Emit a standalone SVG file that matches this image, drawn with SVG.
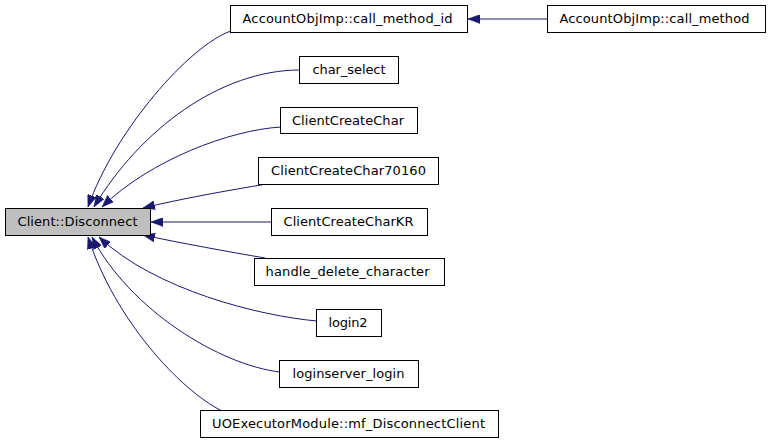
<svg xmlns="http://www.w3.org/2000/svg" width="771" height="443" viewBox="0 0 771 443">
<style>
.box{fill:#ffffff;stroke:#000000;stroke-width:1}
.cur{fill:#bfbfbf;stroke:#000000;stroke-width:1}
.lbl{font-family:"DejaVu Sans","Liberation Sans",sans-serif;font-size:13px;fill:#000000;text-anchor:middle}
.edge{fill:none;stroke:#191970;stroke-width:1;marker-end:url(#arr)}
</style>
<defs>
<marker id="arr" viewBox="0 0 12 9" refX="12" refY="4.5" markerWidth="12" markerHeight="9" markerUnits="userSpaceOnUse" orient="auto">
<path d="M0,0 L12,4.5 L0,9 z" fill="#191970" stroke="#191970" stroke-width="0.5"/>
</marker>
</defs>
<rect width="771" height="443" fill="#ffffff"/>
<g id="edges">
<path class="edge" d="M548,19 L468,19"/>
<path class="edge" d="M231,31 C190,45 115,130 88,207"/>
<path class="edge" d="M300,70 C220,70 140,130 94,207"/>
<path class="edge" d="M281,127 C230,130 150,160 102,207"/>
<path class="edge" d="M267,184 C230,190 180,199 143,208"/>
<path class="edge" d="M271,222 L151,222"/>
<path class="edge" d="M265,258 C230,252 180,243 143,235"/>
<path class="edge" d="M317,321 C260,316 155,290 99,237"/>
<path class="edge" d="M280,372 C220,365 130,310 92,237"/>
<path class="edge" d="M222,411 C180,390 115,320 88,237"/>
</g>
<g id="node_disconnect">
<rect class="cur" x="5.5" y="208.5" width="145" height="27"/>
<text class="lbl" x="77.5" y="225.5" textLength="120" lengthAdjust="spacing">Client::Disconnect</text>
</g>
<g id="node_call_method_id">
<rect class="box" x="230.5" y="5.5" width="237" height="27"/>
<text class="lbl" x="347.5" y="23" textLength="210" lengthAdjust="spacing">AccountObjImp::call_method_id</text>
</g>
<g id="node_call_method">
<rect class="box" x="547.5" y="5.5" width="218" height="27"/>
<text class="lbl" x="654.5" y="23" textLength="190" lengthAdjust="spacing">AccountObjImp::call_method</text>
</g>
<g id="node_char_select">
<rect class="box" x="299.5" y="56.5" width="99" height="27"/>
<text class="lbl" x="349" y="73.5" textLength="73" lengthAdjust="spacing">char_select</text>
</g>
<g id="node_clientcreatechar">
<rect class="box" x="280.5" y="107.5" width="137" height="26"/>
<text class="lbl" x="348" y="124.5" textLength="112" lengthAdjust="spacing">ClientCreateChar</text>
</g>
<g id="node_clientcreatechar70160">
<rect class="box" x="258.5" y="157.5" width="180" height="27"/>
<text class="lbl" x="348.5" y="175" textLength="155" lengthAdjust="spacing">ClientCreateChar70160</text>
</g>
<g id="node_clientcreatecharkr">
<rect class="box" x="271.5" y="208.5" width="156" height="27"/>
<text class="lbl" x="348.5" y="225.5" textLength="130" lengthAdjust="spacing">ClientCreateCharKR</text>
</g>
<g id="node_handle_delete_character">
<rect class="box" x="254.5" y="258.5" width="190" height="27"/>
<text class="lbl" x="347.5" y="276" textLength="164" lengthAdjust="spacing">handle_delete_character</text>
</g>
<g id="node_login2">
<rect class="box" x="316.5" y="309.5" width="65" height="27"/>
<text class="lbl" x="348" y="327" textLength="39" lengthAdjust="spacing">login2</text>
</g>
<g id="node_loginserver_login">
<rect class="box" x="279.5" y="360.5" width="139" height="27"/>
<text class="lbl" x="348.5" y="377.5" textLength="112" lengthAdjust="spacing">loginserver_login</text>
</g>
<g id="node_uoexecutor">
<rect class="box" x="200.5" y="410.5" width="298" height="27"/>
<text class="lbl" x="348.5" y="428" textLength="273" lengthAdjust="spacing">UOExecutorModule::mf_DisconnectClient</text>
</g>
</svg>
